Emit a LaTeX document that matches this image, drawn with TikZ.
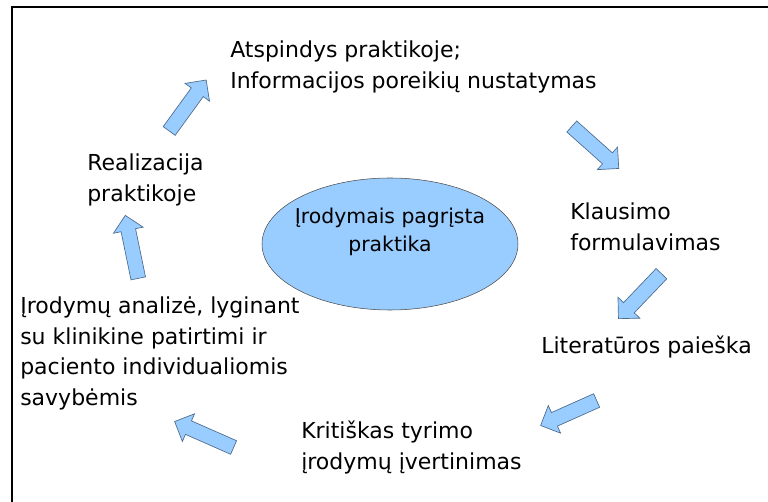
\documentclass[tikz,border=0pt]{standalone}
\usepackage{fontspec}
\setmainfont{DejaVu Sans}
\usetikzlibrary{shapes.geometric,shapes.arrows,calc}
\definecolor{lightblue}{HTML}{99CCFF}
\definecolor{arrowline}{HTML}{4D6B8C}
\tikzset{
  steptext/.style={anchor=north west,align=left,inner sep=0pt,
    font=\fontsize{16.5}{22.8}\selectfont},
  centerbox/.style={ellipse,draw=black!70,fill=lightblue,minimum width=192pt,
    minimum height=99pt,inner sep=0pt},
  centertext/.style={align=center,inner sep=0pt,
    font=\fontsize{15.3}{20.5}\selectfont},
  blockarrow/.style={single arrow,draw=arrowline,fill=lightblue,line width=0.5pt,
    inner xsep=0pt,inner ysep=5.3pt,single arrow head extend=5.8pt}
}
% block arrow from #2 to #3, named #1
\newcommand{\cyclearrow}[3]{%
  \path let \p1=(#2), \p2=(#3) in
    node[blockarrow,minimum height={veclen(\x2-\x1,\y2-\y1)},
      rotate={atan2(\y2-\y1,\x2-\x1)}] (#1) at ($(#2)!0.5!(#3)$) {};}

\begin{document}
\begin{tikzpicture}[x=0.75pt,y=-0.75pt]
  \useasboundingbox (0,0) rectangle (768,502);
  \draw[line width=1.9pt] (12,502) -- (12,7) -- (768,7);

  % steps of the cycle
  \node[steptext] (reflect) at (230,41)
    {Atspindys praktikoje;\\Informacijos poreikių nustatymas};
  \node[steptext] (question) at (570,203) {Klausimo\\formulavimas};
  \node[steptext] (search) at (541,336) {Literatūros paieška};
  \node[steptext] (appraise) at (301,421)
    {Kritiškas tyrimo\\įrodymų įvertinimas};
  \node[steptext] (analyse) at (20,297)
    {Įrodymų analizė, lyginant\\su klinikine patirtimi ir\\paciento individualiomis\\savybėmis};
  \node[steptext] (apply) at (87,154) {Realizacija\\praktikoje};

  \node[centerbox] (ebp) at (390,244) {};
  \node[centertext] (ebptext) at ([yshift=9pt]ebp.center)
    {Įrodymais pagrįsta\\praktika};

  % arrows between the steps
  \coordinate (a1s) at (167,134);  \coordinate (a1e) at (204,83);
  \coordinate (a2s) at (569,124);  \coordinate (a2e) at (616,166);
  \coordinate (a3s) at (664,271);  \coordinate (a3e) at (621,316);
  \coordinate (a4s) at (600,399);  \coordinate (a4e) at (544,424);
  \coordinate (a5s) at (237,449);  \coordinate (a5e) at (178,423);
  \coordinate (a6s) at (139,282);  \coordinate (a6e) at (126,219);
  \cyclearrow{toreflect}{a1s}{a1e}
  \cyclearrow{toquestion}{a2s}{a2e}
  \cyclearrow{tosearch}{a3s}{a3e}
  \cyclearrow{toappraise}{a4s}{a4e}
  \cyclearrow{toanalyse}{a5s}{a5e}
  \cyclearrow{toapply}{a6s}{a6e}
\end{tikzpicture}
\end{document}
